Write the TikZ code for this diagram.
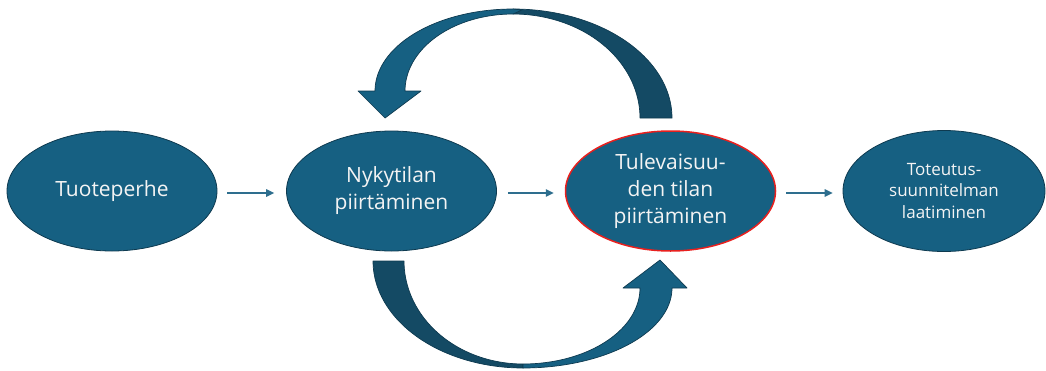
\documentclass[tikz,border=0pt]{standalone}
\usepackage{fontspec}
\setmainfont{Open Sans}
\usetikzlibrary{shapes.geometric,arrows.meta}
\definecolor{fillblue}{HTML}{166082}
\definecolor{edgeblue}{HTML}{0E3A50}
\definecolor{darkarrow}{HTML}{144A64}
\definecolor{lightarrow}{HTML}{166082}
\definecolor{smallarrow}{HTML}{2E6E8E}
\definecolor{redline}{HTML}{E8201E}
\definecolor{txt}{HTML}{F4F4F4}
\tikzset{
  stage/.style={ellipse, fill=fillblue, draw=edgeblue, line width=0.8pt,
    minimum width=210pt, minimum height=120pt, inner sep=0pt,
    text=txt, align=center, font=\fontsize{21}{27}\selectfont},
  flow/.style={draw=smallarrow, line width=1.4pt,
    -{Triangle[length=8pt,width=7.5pt]}},
  bigarrow/.style={draw=edgeblue, line width=0.7pt, line join=round},
}
\begin{document}
\begin{tikzpicture}[x=1pt,y=-1pt]
\useasboundingbox (0,0) rectangle (1046,370);

% nodes
\node[stage] (a) at (112,191) {Tuoteperhe};
\node[stage] (b) at (391.5,191) {Nykytilan\\piirtäminen};
\node[stage, draw=redline, line width=1.5pt] (c) at (670.5,191) {Tulevaisuu-\\den tilan\\piirtäminen};
\node[stage, minimum width=202pt, minimum height=121pt,
      font=\fontsize{17}{21.5}\selectfont] (d) at (944,191) {Toteutus-\\suunnitelman\\laatiminen};

% straight connectors
\draw[flow, shorten <=10pt, shorten >=12pt] ([yshift=-2pt]a.east) -- ([yshift=-2pt]b.west);
\draw[flow, shorten <=11pt, shorten >=11pt] ([yshift=-2pt]b.east) -- ([yshift=-2pt]c.west);
\draw[flow, shorten <=10pt, shorten >=10pt] ([yshift=-2pt]c.east) -- ([yshift=-2pt]d.west);

% top curved arrow (from c back to b)
\fill[darkarrow, bigarrow]
  plot[smooth, domain=-90:0, samples=40] ({513+159*cos(\x)},{118+109*sin(\x)})
  -- (640,118)
  -- plot[smooth, domain=0:-90, samples=40] ({513+127*cos(\x)},{118+104*sin(\x)})
  -- cycle;
\fill[lightarrow, bigarrow]
  (358,91) -- (375,91)
  -- plot[smooth, domain=180:270, samples=40] ({513+138*cos(\x)},{91+82*sin(\x)})
  -- (522,10)
  -- plot[smooth, domain=270:180, samples=40] ({513+108*cos(\x)},{91+77*sin(\x)})
  -- (421,91) -- (385,118) -- cycle;

% bottom curved arrow (from b to c)
\fill[darkarrow, bigarrow]
  plot[smooth, domain=180:90, samples=40] ({523+150*cos(\x)},{261+107*sin(\x)})
  -- (523,364)
  -- plot[smooth, domain=90:180, samples=40] ({523+119*cos(\x)},{261+103*sin(\x)})
  -- cycle;
\fill[lightarrow, bigarrow]
  plot[smooth, domain=90:0, samples=40] ({523+149*cos(\x)},{288+80*sin(\x)})
  -- (687,288) -- (660,260) -- (623,288) -- (640,288)
  -- plot[smooth, domain=0:90, samples=40] ({523+117*cos(\x)},{288+76*sin(\x)})
  -- cycle;
\end{tikzpicture}
\end{document}
